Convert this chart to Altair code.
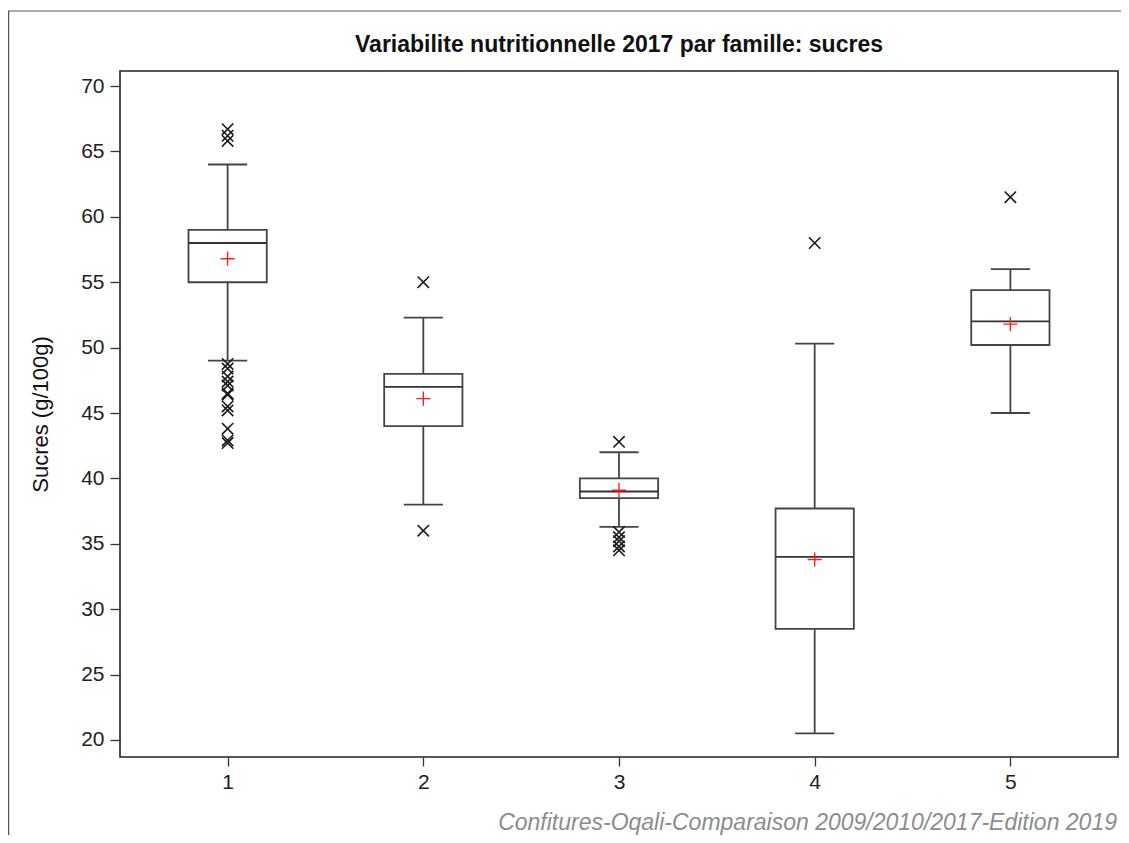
import altair as alt
import pandas as pd

# ---- data ----
families = [1, 2, 3, 4, 5]
q1 = [55.0, 44.0, 38.5, 28.5, 50.2]
median = [58.0, 47.0, 39.0, 34.0, 52.0]
q3 = [59.0, 48.0, 40.0, 37.7, 54.4]
whisker_low = [49.0, 38.0, 36.3, 20.5, 45.0]
whisker_high = [64.0, 52.3, 42.0, 50.3, 56.0]
means = [56.8, 46.1, 39.1, 33.8, 51.8]

outliers_1 = [66.7, 66.2, 65.8, 48.75, 48.4, 47.8, 47.4, 47.1, 46.5, 46.4, 45.5, 45.2, 43.8, 42.9, 42.7]
outliers_2 = [55.0, 36.0]
outliers_3 = [42.8, 35.9, 35.5, 35.2, 34.8, 34.5]
outliers_4 = [58.0]
outliers_5 = [61.5]

title_text = "Variabilite nutritionnelle 2017 par famille: sucres"
y_title = "Sucres (g/100g)"
caption = "Confitures-Oqali-Comparaison 2009/2010/2017-Edition 2019"
x_ticks = [1, 2, 3, 4, 5]
y_ticks = [20, 25, 30, 35, 40, 45, 50, 55, 60, 65, 70]

# ---- tables ----
stats = pd.DataFrame({
    "fam": families, "q1": q1, "median": median, "q3": q3,
    "wlo": whisker_low, "whi": whisker_high, "mean": means,
})
out_rows = []
for f, vals in zip(families, [outliers_1, outliers_2, outliers_3, outliers_4, outliers_5]):
    for v in vals:
        out_rows.append({"fam": f, "val": v})
outliers = pd.DataFrame(out_rows)

FONT = "Liberation Sans"
W, H = 998, 686
BOX_HALF = 0.2
CAP_HALF = 0.1
LINE_COLOR = "#444444"

xscale = alt.Scale(domain=[0.45, 5.55], nice=False, zero=False)
yscale = alt.Scale(domain=[18.7, 71.15], nice=False, zero=False)
xaxis = alt.Axis(values=x_ticks, format="d", grid=False, tickSize=9, labelPadding=5,
                 labelFontSize=21, labelFont=FONT, labelColor="#222", tickColor="#333",
                 tickWidth=1.3, domain=False)
yaxis = alt.Axis(values=y_ticks, grid=False, tickSize=10, labelPadding=6,
                 labelFontSize=21, labelFont=FONT, labelColor="#222", tickColor="#333",
                 tickWidth=1.3, domain=False, titleFont=FONT, titleFontSize=22,
                 titleFontWeight="normal", titleColor="#111", titleAngle=270,
                 titleX=-80, titleY=H / 2, titleAlign="center", titleBaseline="middle")


def X(field):
    return alt.X(field, type="quantitative", scale=xscale, axis=xaxis, title=None)


def Y(field):
    return alt.Y(field, type="quantitative", scale=yscale, axis=yaxis, title=y_title)


base = alt.Chart(stats).transform_calculate(
    xlo=f"datum.fam - {BOX_HALF}", xhi=f"datum.fam + {BOX_HALF}",
    clo=f"datum.fam - {CAP_HALF}", chi=f"datum.fam + {CAP_HALF}",
)

box = base.mark_rect(fill=None, stroke=LINE_COLOR, strokeWidth=1.8).encode(
    x=X("xlo"), x2="xhi", y=Y("q1"), y2="q3")
med = base.mark_rule(color="#333", strokeWidth=1.8).encode(
    x=X("xlo"), x2="xhi", y=Y("median"))
w_up = base.mark_rule(color=LINE_COLOR, strokeWidth=1.8).encode(
    x=X("fam"), y=Y("q3"), y2="whi")
w_lo = base.mark_rule(color=LINE_COLOR, strokeWidth=1.8).encode(
    x=X("fam"), y=Y("wlo"), y2="q1")
cap_up = base.mark_rule(color=LINE_COLOR, strokeWidth=1.8).encode(
    x=X("clo"), x2="chi", y=Y("whi"))
cap_lo = base.mark_rule(color=LINE_COLOR, strokeWidth=1.8).encode(
    x=X("clo"), x2="chi", y=Y("wlo"))
mean_pt = base.mark_point(shape="M-1,0L1,0M0,-1L0,1", filled=False, stroke="#ff2020",
                          strokeWidth=1.4, size=200, opacity=1).encode(
    x=X("fam"), y=Y("mean"))
out_pt = alt.Chart(outliers).mark_point(shape="M-1,-1L1,1M-1,1L1,-1", filled=False,
                                        stroke="#1a1a1a", strokeWidth=1.6, size=130,
                                        opacity=1).encode(
    x=X("fam"), y=Y("val"))

title_df = pd.DataFrame({"t": [title_text]})
title_mark = alt.Chart(title_df).mark_text(align="center", baseline="alphabetic",
                                           font=FONT, fontSize=23, fontWeight="bold",
                                           color="#111").encode(
    x=alt.value(W / 2), y=alt.value(-19), text="t:N")

cap_df = pd.DataFrame({"t": [caption]})
cap_text = alt.Chart(cap_df).mark_text(align="right", baseline="alphabetic",
                                       font=FONT, fontSize=23, fontStyle="italic",
                                       color="#8c8c8c").encode(
    x=alt.value(997), y=alt.value(759), text="t:N")

frame_df = pd.DataFrame({"k": [0]})
frame_top = alt.Chart(frame_df).mark_rule(color="#555", strokeWidth=1).encode(
    x=alt.value(-112), x2=alt.value(1010), y=alt.value(-60))
frame_left = alt.Chart(frame_df).mark_rule(color="#555", strokeWidth=1.5).encode(
    x=alt.value(-111.5), y=alt.value(-60), y2=alt.value(780))

chart = alt.layer(
    w_up, w_lo, cap_up, cap_lo, box, med, out_pt, mean_pt,
    title_mark, cap_text, frame_top, frame_left
).properties(
    width=W, height=H,
    background="white",
    autosize=alt.AutoSizeParams(type="none"),
    padding={"left": 112, "top": 63, "right": 3, "bottom": 78},
).configure_view(
    stroke="#222", strokeWidth=1.6
)

chart.save("out.html", embed_options={"renderer": "svg", "actions": False})
